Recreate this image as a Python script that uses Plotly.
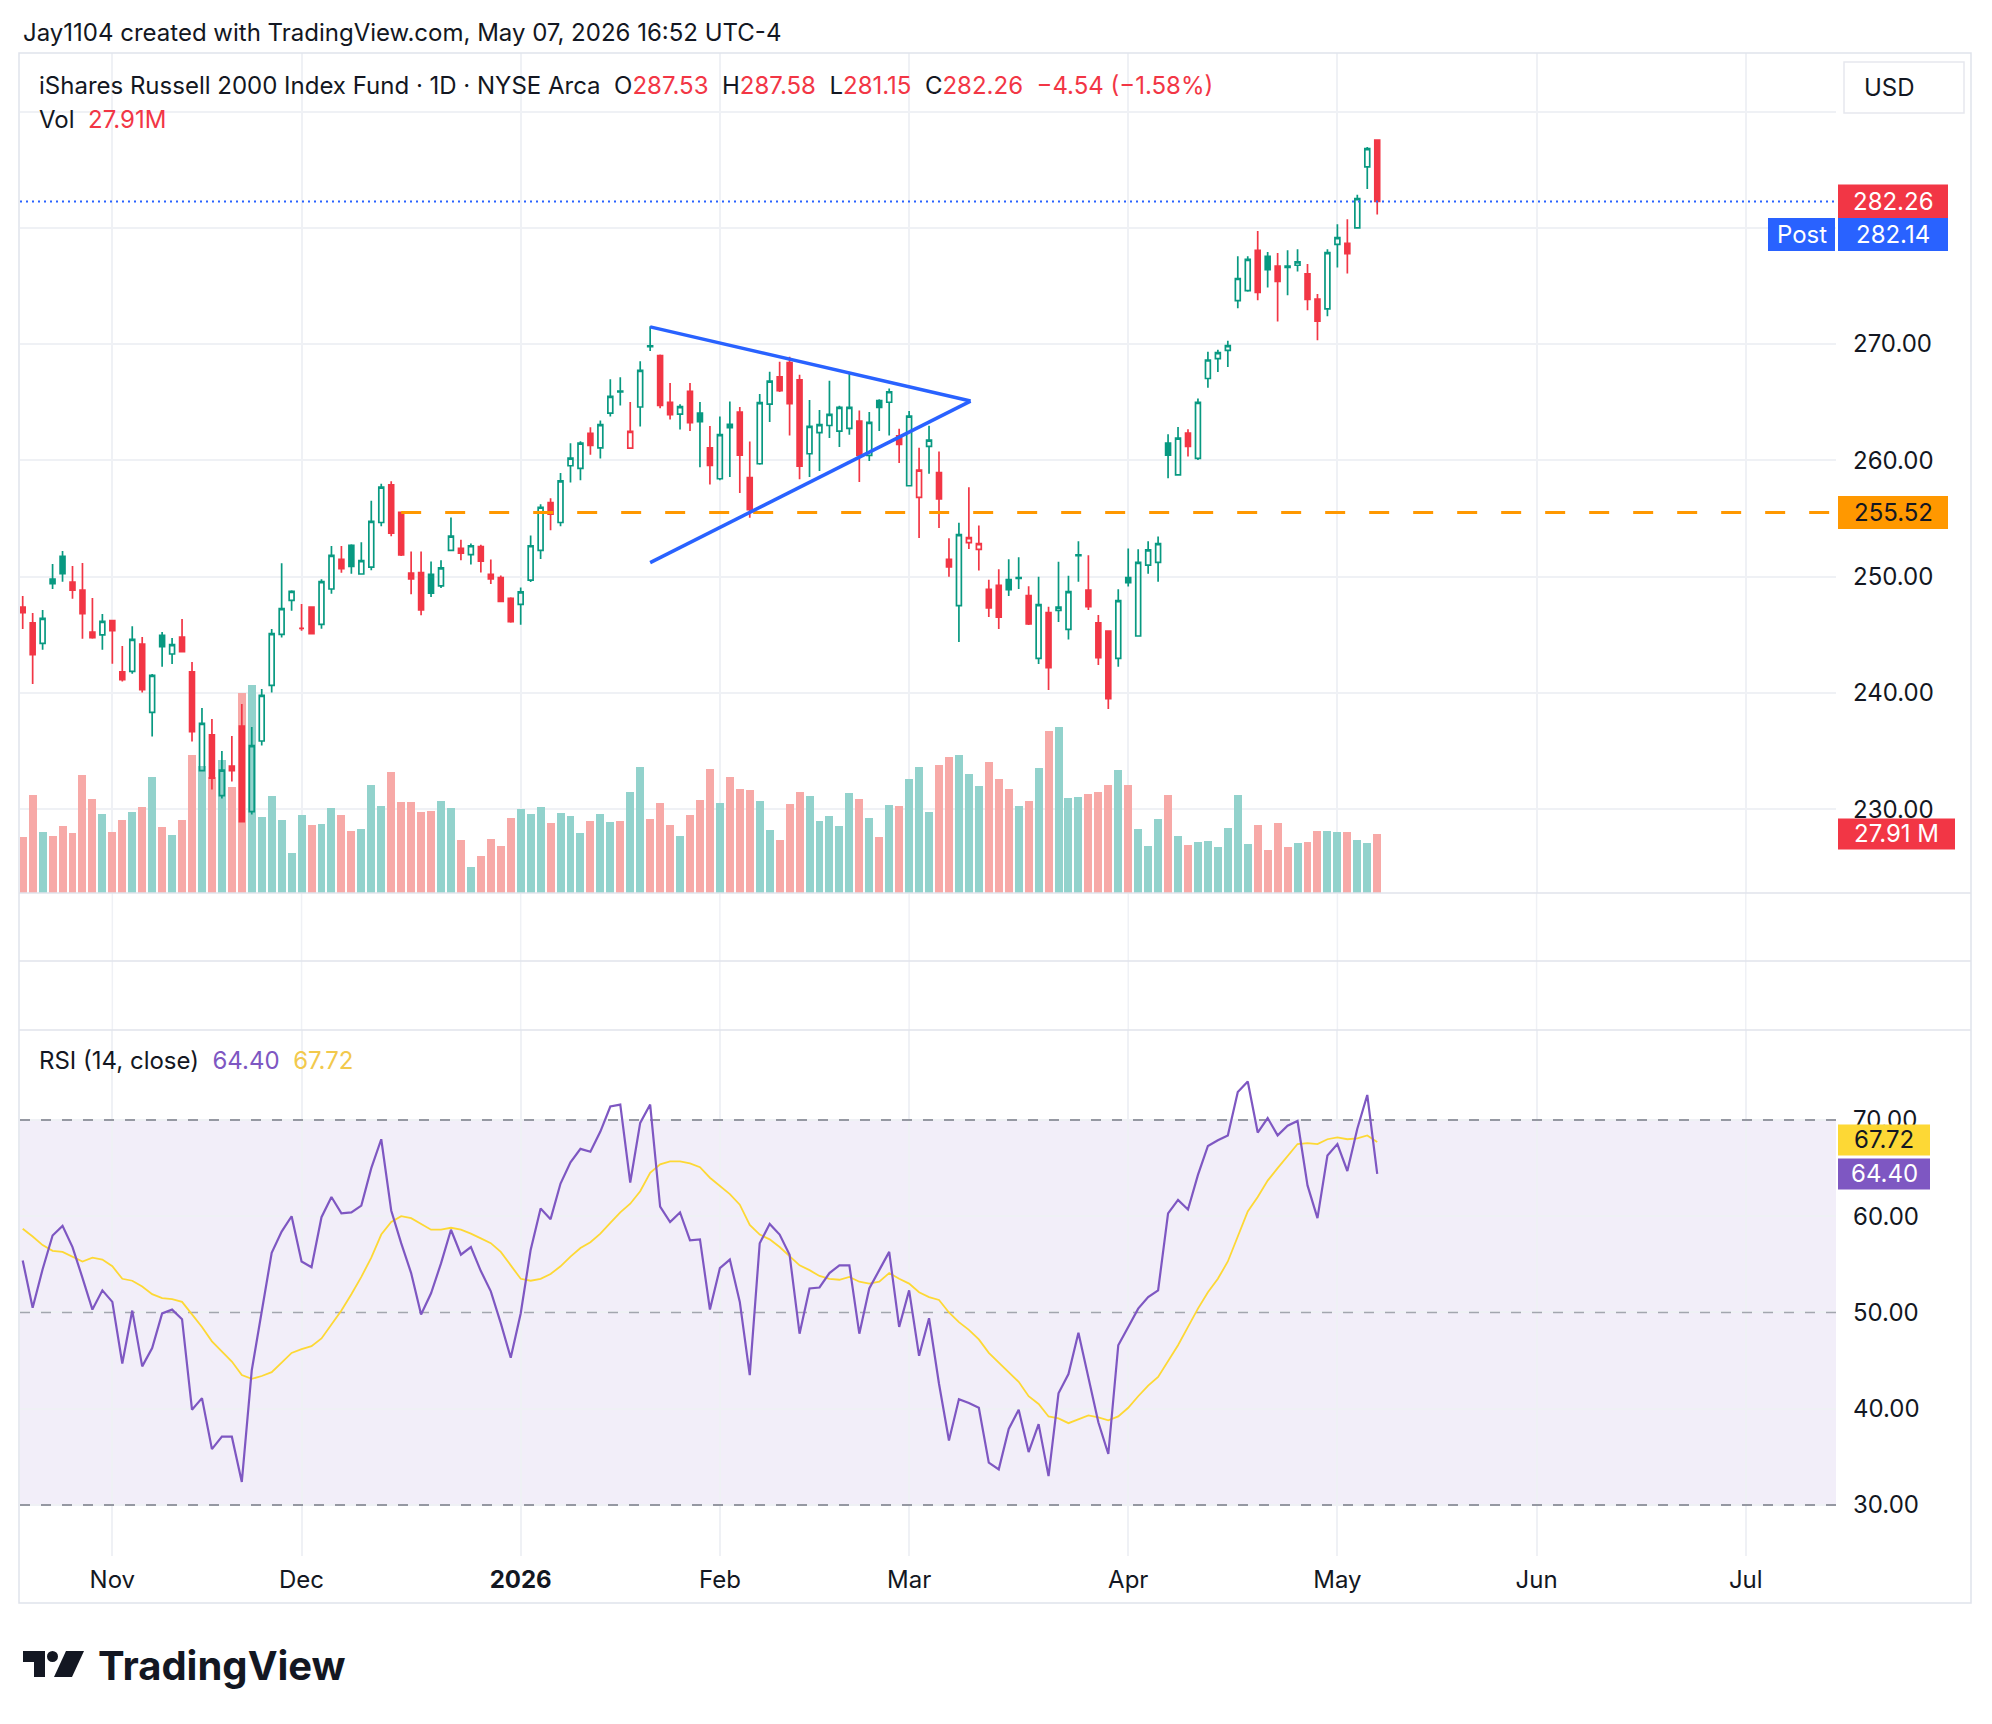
import pandas as pd
import plotly.graph_objects as go

W, H = 1992, 1724

# ---------------- data ----------------
holidays = ["2025-11-27", "2025-12-25", "2026-01-01", "2026-01-19", "2026-02-16", "2026-04-03"]
future_holidays = ["2026-05-25", "2026-06-19", "2026-07-03"]
dates = [d for d in pd.bdate_range("2025-10-21", "2026-05-07") if d.strftime("%Y-%m-%d") not in holidays]

opens = [247.39, 246.02, 244.27, 249.80, 251.75, 249.54, 248.85, 245.24, 244.99, 246.22,
         241.81, 241.86, 244.21, 238.34, 244.96, 243.35, 244.81, 241.81, 233.32, 236.39,
         231.17, 233.72, 237.16, 229.80, 235.87, 240.66, 245.04, 247.97, 245.55, 247.39,
         245.90, 248.94, 251.49, 252.69, 250.23, 250.82, 254.66, 257.90, 255.54, 250.30,
         250.36, 250.20, 249.21, 252.26, 252.43, 251.90, 252.59, 250.20, 249.93, 248.13,
         247.61, 249.70, 252.26, 256.36, 254.66, 259.54, 259.31, 262.33, 261.08, 264.07,
         265.95, 261.05, 264.59, 269.85, 269.02, 264.98, 263.97, 265.93, 264.07, 261.08,
         258.42, 263.09, 264.15, 258.51, 259.71, 264.84, 267.19, 268.40, 266.93, 260.57,
         262.38, 263.00, 262.52, 262.75, 263.38, 260.43, 265.15, 265.00, 262.12, 257.82,
         256.82, 261.20, 258.94, 251.49, 247.51, 252.92, 252.35, 248.91, 249.26, 249.74,
         249.85, 248.37, 242.98, 246.91, 247.11, 245.47, 251.80, 248.85, 246.02, 245.33,
         242.98, 249.91, 244.90, 251.00, 251.23, 261.48, 258.75, 262.34, 260.17, 267.04,
         268.75, 269.46, 273.73, 274.59, 278.06, 277.55, 276.70, 276.70, 276.78, 276.04,
         273.87, 273.02, 278.58, 278.66, 280.00, 285.24, 287.53]
highs = [248.34, 246.88, 247.13, 251.09, 252.21, 250.92, 251.17, 248.17, 246.79, 246.28,
         244.04, 245.73, 244.81, 241.63, 245.24, 244.73, 246.36, 242.66, 238.71, 237.77,
         235.01, 236.30, 239.05, 237.08, 240.34, 245.50, 251.15, 248.83, 247.65, 247.45,
         249.77, 252.64, 252.64, 252.78, 252.95, 256.52, 258.00, 258.20, 255.60, 252.16,
         252.16, 251.31, 251.41, 255.08, 253.18, 252.85, 252.75, 251.48, 250.10, 248.23,
         249.08, 253.54, 256.23, 256.75, 258.92, 261.48, 261.64, 262.85, 263.44, 266.98,
         267.15, 265.02, 268.52, 271.54, 269.10, 266.66, 264.82, 266.66, 265.02, 262.95,
         263.78, 265.07, 264.60, 261.63, 265.70, 267.62, 268.48, 268.91, 267.36, 265.19,
         264.33, 266.85, 264.70, 267.42, 264.30, 264.15, 265.25, 266.18, 262.72, 264.24,
         261.09, 262.98, 260.77, 253.30, 254.64, 257.68, 254.41, 249.74, 250.63, 251.49,
         251.66, 249.17, 250.00, 247.42, 251.29, 250.09, 253.05, 251.85, 246.70, 245.40,
         248.91, 252.42, 252.36, 253.05, 253.45, 262.25, 262.88, 262.68, 265.33, 269.34,
         269.52, 270.28, 277.55, 277.55, 279.72, 277.92, 277.83, 278.06, 278.15, 276.89,
         274.30, 278.15, 280.31, 280.74, 282.85, 286.95, 287.58]
lows = [245.50, 240.77, 243.72, 248.94, 249.57, 248.11, 244.67, 244.67, 243.72, 242.52,
        240.99, 241.66, 240.03, 236.25, 242.26, 242.49, 243.52, 235.82, 233.30, 231.69,
        230.92, 232.38, 228.87, 229.55, 235.48, 240.03, 244.76, 247.08, 245.36, 245.05,
        245.53, 248.54, 250.34, 250.26, 250.20, 250.56, 254.33, 253.48, 251.77, 248.49,
        246.69, 248.26, 249.02, 252.20, 251.41, 251.05, 250.36, 249.38, 247.80, 246.03,
        245.87, 249.54, 251.51, 254.00, 254.33, 258.10, 258.30, 260.49, 260.16, 263.77,
        264.72, 261.00, 262.92, 269.41, 264.49, 263.51, 262.66, 262.52, 259.41, 257.93,
        258.30, 258.57, 257.19, 255.07, 259.63, 263.30, 265.88, 262.15, 258.37, 258.57,
        259.08, 261.92, 261.15, 262.21, 258.14, 259.94, 262.52, 262.15, 259.77, 257.82,
        253.32, 258.85, 254.18, 250.00, 244.38, 252.38, 250.54, 246.53, 245.50, 248.34,
        248.94, 245.85, 242.49, 240.26, 246.10, 244.60, 249.57, 247.13, 242.41, 238.62,
        242.26, 249.15, 244.90, 250.26, 249.57, 258.46, 258.75, 260.34, 260.03, 266.24,
        267.61, 268.03, 273.08, 274.50, 273.76, 274.87, 271.94, 274.19, 276.24, 272.91,
        270.34, 272.39, 276.58, 276.07, 279.97, 283.33, 281.15]
closes = [246.91, 243.30, 246.42, 249.40, 250.26, 248.85, 246.82, 244.76, 246.16, 245.36,
          241.15, 244.61, 240.29, 241.52, 243.98, 244.15, 243.55, 236.68, 237.39, 232.67,
          233.36, 233.32, 228.94, 235.48, 239.80, 245.10, 247.25, 248.74, 245.55, 245.10,
          249.57, 251.83, 250.69, 250.89, 251.38, 254.75, 257.70, 253.74, 251.87, 249.80,
          247.15, 248.59, 250.75, 253.48, 252.03, 252.66, 251.34, 249.80, 247.87, 246.13,
          248.69, 252.66, 255.97, 255.38, 258.23, 260.20, 261.48, 261.28, 263.08, 265.51,
          265.88, 262.49, 267.74, 269.78, 264.72, 263.93, 264.62, 263.25, 263.34, 259.57,
          262.21, 262.81, 260.46, 255.76, 264.97, 266.82, 265.99, 264.87, 259.51, 262.92,
          263.07, 263.95, 264.55, 264.55, 260.43, 263.27, 264.55, 265.90, 261.38, 263.81,
          259.17, 261.75, 256.68, 250.83, 253.61, 253.35, 252.84, 247.31, 246.53, 248.88,
          249.92, 245.93, 247.59, 242.18, 247.39, 248.71, 251.88, 247.42, 243.04, 239.51,
          247.94, 249.49, 251.23, 252.31, 252.85, 260.46, 261.91, 261.20, 264.99, 268.63,
          269.26, 269.86, 275.64, 277.29, 274.44, 276.41, 275.38, 276.60, 277.07, 273.85,
          271.97, 277.86, 279.15, 277.78, 282.51, 286.80, 282.26]
volumes_m = [26.3, 46.2, 28.7, 26.8, 31.5, 28.2, 55.7, 44.3, 37.2, 28.7,
             34.4, 38.2, 40.5, 54.7, 31.1, 27.3, 34.4, 65.1, 60.0, 55.0,
             62.8, 50.0, 94.5, 98.2, 35.8, 45.7, 34.4, 18.8, 36.7, 32.0,
             32.5, 40.1, 36.7, 29.2, 30.1, 51.0, 41.0, 57.2, 42.9, 42.9,
             38.2, 38.8, 43.5, 40.2, 25.1, 12.3, 17.5, 25.6, 22.2, 35.5,
             39.7, 37.3, 40.6, 33.0, 37.9, 36.4, 28.3, 34.1, 37.3, 33.6,
             34.1, 47.6, 59.4, 35.0, 42.6, 32.1, 26.9, 36.8, 44.0, 58.6,
             42.8, 54.7, 49.0, 48.6, 43.4, 29.6, 24.9, 41.9, 47.6, 45.7,
             33.9, 36.3, 31.5, 47.2, 44.3, 35.3, 26.3, 41.5, 41.0, 53.8,
             59.5, 38.2, 60.4, 64.2, 65.1, 56.1, 50.5, 61.8, 53.8, 49.0,
             41.0, 43.4, 59.0, 76.5, 78.3, 44.9, 45.4, 46.8, 47.8, 51.1,
             58.2, 51.1, 30.3, 22.2, 35.0, 46.4, 27.0, 22.7, 24.1, 24.6,
             21.8, 30.8, 46.4, 23.2, 32.2, 20.3, 33.1, 21.8, 23.7, 24.1,
             29.3, 29.3, 28.9, 28.9, 25.1, 23.7, 27.91]
rsi = [55.4, 50.5, 54.5, 58.0, 59.0, 56.8, 53.6, 50.3, 52.3, 51.1,
       44.7, 50.2, 44.4, 46.3, 49.9, 50.3, 49.3, 39.9, 41.1, 35.8,
       37.1, 37.1, 32.4, 44.0, 50.1, 56.2, 58.4, 60.0, 55.3, 54.7,
       59.9, 62.0, 60.3, 60.4, 61.1, 65.0, 68.0, 60.6, 57.2, 54.1,
       49.8, 52.0, 55.1, 58.6, 56.0, 56.8, 54.3, 52.2, 48.9, 45.3,
       49.9, 56.5, 60.8, 59.7, 63.4, 65.6, 67.0, 66.7, 68.8, 71.4,
       71.6, 63.5, 69.7, 71.6, 61.0, 59.4, 60.4, 57.5, 57.6, 50.3,
       54.6, 55.5, 51.1, 43.5, 57.2, 59.2, 58.1, 56.0, 47.8, 52.5,
       52.6, 54.1, 54.9, 54.9, 47.8, 52.5, 54.4, 56.3, 48.5, 52.3,
       45.5, 49.4, 42.6, 36.7, 41.0, 40.6, 40.1, 34.4, 33.7, 37.9,
       39.9, 35.5, 38.4, 33.0, 41.6, 43.6, 47.9, 43.1, 38.6, 35.3,
       46.6, 48.5, 50.4, 51.6, 52.3, 60.3, 61.7, 60.7, 64.3, 67.3,
       67.9, 68.4, 72.9, 74.0, 68.7, 70.2, 68.4, 69.4, 69.9, 63.2,
       59.8, 66.3, 67.5, 64.7, 69.1, 72.6, 64.40]
rsi_ma = [58.7, 57.9, 57.0, 56.4, 56.3, 55.8, 55.3, 55.7, 55.5, 54.8,
          53.5, 53.3, 52.7, 51.9, 51.5, 51.4, 51.1, 49.8, 48.5, 47.0,
          45.9, 44.9, 43.5, 43.1, 43.4, 43.8, 44.8, 45.8, 46.2, 46.5,
          47.3, 48.7, 50.2, 51.9, 53.7, 55.7, 58.1, 59.4, 60.0, 59.8,
          59.2, 58.6, 58.6, 58.8, 58.6, 58.2, 57.7, 57.2, 56.3, 54.9,
          53.5, 53.3, 53.5, 54.0, 54.8, 55.8, 56.7, 57.3, 58.2, 59.3,
          60.4, 61.3, 62.6, 64.5, 65.4, 65.7, 65.7, 65.5, 65.1, 64.0,
          63.1, 62.3, 61.2, 59.1, 58.1, 57.6, 56.8, 55.8, 54.9, 54.4,
          53.8, 53.5, 53.4, 53.7, 53.2, 53.0, 53.2, 54.1, 53.5, 53.0,
          52.1, 51.6, 51.3, 50.0, 49.0, 48.2, 47.2, 45.8, 44.8, 43.8,
          42.8, 41.3, 40.5, 39.2, 39.0, 38.5, 38.9, 39.3, 39.1, 38.8,
          39.2, 40.1, 41.3, 42.4, 43.3, 44.9, 46.6, 48.5, 50.4, 52.1,
          53.5, 55.3, 57.8, 60.5, 62.0, 63.7, 65.0, 66.3, 67.5, 67.6,
          67.5, 68.0, 68.2, 68.0, 68.1, 68.4, 67.72]

support_level = 255.52
post_price = 282.14
tri_dates = ["2026-01-22", "2026-03-10 04:00", "2026-01-22"]
tri_prices = [271.48, 265.10, 251.21]
month_tick_dates = ["2025-11-03", "2025-12-01", "2026-01-02", "2026-02-02", "2026-03-02",
                    "2026-04-01", "2026-05-01", "2026-06-01", "2026-07-01"]
month_tick_text = ["Nov", "Dec", "<b>2026</b>", "Feb", "Mar", "Apr", "May", "Jun", "Jul"]
price_ticks = [230, 240, 250, 260, 270, 280, 290]
price_tick_text = ["230.00", "240.00", "250.00", "260.00", "270.00", "", ""]
rsi_ticks = [30, 40, 50, 60, 70]
rsi_tick_text = ["30.00", "40.00", "50.00", "60.00", "70.00"]
rsi_levels = [70, 50, 30]

# ---------------- style ----------------
GREEN = "#089981"
RED = "#F23645"
VOL_UP = "#92D2CC"
VOL_DN = "#F7A9A7"
BLUE = "#2962FF"
ORANGE = "#FF9800"
PURPLE = "#7E57C2"
YELLOW = "#FDD835"
TXT = "#131722"
GRID = "#EFF1F5"
FONT = "Inter, Roboto, 'Noto Sans', sans-serif"
FS = 24

PL, PR = 20, 1836          # plot area left/right (px)
P_TOP, P_BOT = 53, 893     # price pane
R_TOP, R_BOT = 1030, 1556  # rsi pane
VOL_MAX = 397.3
P_MIN, P_MAX = 222.80, 295.03
R_MIN, R_MAX = 24.70, 79.35


def fx(px):
    return px / W


def fy(py):
    return 1 - py / H


# color by close vs previous close, fill by close vs open (hollow candles)
up_prev = [closes[0] >= opens[0]] + [closes[i] >= closes[i - 1] for i in range(1, len(closes))]
vol_colors = [VOL_UP if c >= o else VOL_DN for o, c in zip(opens, closes)]

rb = [dict(bounds=["sat", "mon"]), dict(values=holidays + future_holidays)]
x_range = ["2025-10-20 17:30", "2026-07-15 01:30"]

fig = go.Figure()

fig.add_trace(go.Bar(x=dates, y=volumes_m, marker=dict(color=vol_colors, line=dict(width=0)),
                     width=0.8 * 86400000, xaxis="x", yaxis="y", hoverinfo="skip", showlegend=False))


def candle(mask, color):
    idx = [i for i in range(len(dates)) if mask[i]]
    return go.Candlestick(
        x=[dates[i] for i in idx], open=[opens[i] for i in idx], high=[highs[i] for i in idx],
        low=[lows[i] for i in idx], close=[closes[i] for i in idx],
        increasing=dict(line=dict(color=color, width=1.7), fillcolor="rgba(255,255,255,0)"),
        decreasing=dict(line=dict(color=color, width=1.7), fillcolor=color),
        whiskerwidth=0, xaxis="x", yaxis="y2", hoverinfo="skip", showlegend=False)


fig.add_trace(candle(up_prev, GREEN))
fig.add_trace(candle([not u for u in up_prev], RED))

# RSI reference levels (dashed), drawn under the RSI lines
for lvl, col in zip(rsi_levels, ("#787B86", "#A3A6AF", "#787B86")):
    fig.add_trace(go.Scatter(x=x_range, y=[lvl, lvl], mode="lines",
                             line=dict(color=col, width=1.6, dash="10px,11px"),
                             xaxis="x2", yaxis="y3", hoverinfo="skip", showlegend=False, cliponaxis=False))

fig.add_trace(go.Scatter(x=dates, y=rsi_ma, mode="lines", line=dict(color=YELLOW, width=1.8),
                         xaxis="x2", yaxis="y3", hoverinfo="skip", showlegend=False))
fig.add_trace(go.Scatter(x=dates, y=rsi, mode="lines", line=dict(color=PURPLE, width=2.2),
                         xaxis="x2", yaxis="y3", hoverinfo="skip", showlegend=False))

xaxis_common = dict(type="date", range=x_range, rangebreaks=rb, tickmode="array",
                    tickvals=month_tick_dates, ticktext=month_tick_text,
                    showgrid=True, gridcolor=GRID, gridwidth=1.5, zeroline=False,
                    showline=False, ticks="", domain=[fx(PL), fx(PR)], fixedrange=True,
                    automargin=False, rangeslider=dict(visible=False))

fig.update_layout(
    width=W, height=H, margin=dict(l=0, r=0, t=0, b=0, autoexpand=False),
    paper_bgcolor="white", plot_bgcolor="white",
    font=dict(family=FONT, color=TXT, size=FS),
    showlegend=False, boxgap=0.3, bargap=0,
    xaxis=dict(xaxis_common, anchor="y", showticklabels=False),
    xaxis2=dict(xaxis_common, anchor="y3", matches="x", showticklabels=True,
                tickfont=dict(size=FS, color=TXT), ticklabelstandoff=7),
    yaxis=dict(domain=[fy(P_BOT), fy(P_TOP)], range=[0, VOL_MAX], visible=False,
               showgrid=False, fixedrange=True, automargin=False),
    yaxis2=dict(overlaying="y", anchor="x", side="right", range=[P_MIN, P_MAX],
                tickmode="array", tickvals=price_ticks, ticktext=price_tick_text,
                showgrid=True, gridcolor=GRID, gridwidth=1.5, zeroline=False, ticks="",
                tickfont=dict(size=FS, color=TXT), ticklabelstandoff=16, fixedrange=True,
                automargin=False),
    yaxis3=dict(domain=[fy(R_BOT), fy(R_TOP)], anchor="x2", side="right", range=[R_MIN, R_MAX],
                tickmode="array", tickvals=rsi_ticks, ticktext=rsi_tick_text,
                showgrid=True, gridcolor=GRID, gridwidth=1.5, zeroline=False, ticks="",
                tickfont=dict(size=FS, color=TXT), ticklabelstandoff=16, fixedrange=True,
                automargin=False),
)

shapes = []
# outer frame and pane separators
shapes.append(dict(type="rect", xref="paper", yref="paper", x0=fx(19), x1=fx(1971), y0=fy(1603), y1=fy(53),
                   line=dict(color="#E0E3EB", width=1.5), fillcolor="rgba(0,0,0,0)", layer="above"))
for py in (P_BOT, 961, R_TOP):
    shapes.append(dict(type="line", xref="paper", yref="paper", x0=fx(19), x1=fx(1971), y0=fy(py), y1=fy(py),
                       line=dict(color="#E0E3EB", width=1.5)))
# vertical grid through the empty panes
for d in month_tick_dates:
    shapes.append(dict(type="line", xref="x", yref="paper", x0=d, x1=d, y0=fy(R_TOP), y1=fy(P_BOT),
                       line=dict(color=GRID, width=1.5), layer="below"))
# RSI band
shapes.append(dict(type="rect", xref="paper", yref="y3", x0=fx(PL), x1=fx(PR), y0=rsi_levels[2], y1=rsi_levels[0],
                   fillcolor="rgba(126,87,194,0.10)", line=dict(width=0), layer="below"))
# support line (orange dashed)
shapes.append(dict(type="line", xref="x", yref="y2", x0=dates[38], x1=x_range[1], y0=support_level, y1=support_level,
                   line=dict(color=ORANGE, width=3, dash="20px,24px")))
# last price dotted line
shapes.append(dict(type="line", xref="paper", yref="y2", x0=fx(PL), x1=fx(PR), y0=closes[-1], y1=closes[-1],
                   line=dict(color=BLUE, width=2, dash="2px,4px")))
# triangle
shapes.append(dict(type="line", xref="x", yref="y2", x0=tri_dates[0], x1=tri_dates[1], y0=tri_prices[0], y1=tri_prices[1],
                   line=dict(color=BLUE, width=3.5)))
shapes.append(dict(type="line", xref="x", yref="y2", x0=tri_dates[2], x1=tri_dates[1], y0=tri_prices[2], y1=tri_prices[1],
                   line=dict(color=BLUE, width=3.5)))

annotations = []


def label_box(x0, x1, yc, fill, text, tcolor, h=33):
    shapes.append(dict(type="rect", xref="paper", yref="paper", x0=fx(x0), x1=fx(x1),
                       y0=fy(yc + h / 2), y1=fy(yc - h / 2), fillcolor=fill, line=dict(width=0), layer="above"))
    annotations.append(dict(xref="paper", yref="paper", x=fx((x0 + x1) / 2), y=fy(yc), text=text,
                            showarrow=False, xanchor="center", yanchor="middle",
                            font=dict(size=FS, color=tcolor)))


def price_y(p):
    return P_BOT - (p - P_MIN) / (P_MAX - P_MIN) * (P_BOT - P_TOP)


def rsi_y(v):
    return R_BOT - (v - R_MIN) / (R_MAX - R_MIN) * (R_BOT - R_TOP)


label_box(1838, 1948, price_y(closes[-1]), RED, f"{closes[-1]:.2f}", "white", 34)
label_box(1768, 1835, price_y(closes[-1]) + 33, BLUE, "Post", "white", 33)
label_box(1838, 1948, price_y(closes[-1]) + 33, BLUE, f"{post_price:.2f}", "white", 33)
label_box(1838, 1948, price_y(support_level), ORANGE, f"{support_level:.2f}", TXT, 33)
label_box(1838, 1955, P_BOT - volumes_m[-1] / VOL_MAX * (P_BOT - P_TOP), RED, f"{volumes_m[-1]:.2f} M", "white", 31)
label_box(1838, 1930, rsi_y(rsi_ma[-1]) - 2, YELLOW, f"{rsi_ma[-1]:.2f}", TXT, 31)
label_box(1838, 1930, rsi_y(rsi[-1]) + 0, PURPLE, f"{rsi[-1]:.2f}", "white", 31)

# USD box
shapes.append(dict(type="rect", xref="paper", yref="paper", x0=fx(1844), x1=fx(1964), y0=fy(113), y1=fy(62),
                   line=dict(color="#E6E8EE", width=1.5), fillcolor="white", layer="above"))
annotations.append(dict(xref="paper", yref="paper", x=fx(1862), y=fy(88), text="USD", showarrow=False,
                        xanchor="left", yanchor="middle", font=dict(size=FS, color=TXT)))

# header texts
annotations.append(dict(xref="paper", yref="paper", x=fx(21), y=fy(32),
                        text="Jay1104 created with TradingView.com, May 07, 2026 16:52 UTC-4",
                        showarrow=False, xanchor="left", yanchor="middle", font=dict(size=FS, color=TXT)))
chg = closes[-1] - closes[-2]
pct = chg / closes[-2] * 100


def red(s):
    return f"<span style='color:{RED}'>{s}</span>"


legend_txt = ("iShares Russell 2000 Index Fund · 1D · NYSE Arca&nbsp;&nbsp;"
              f"O{red(f'{opens[-1]:.2f}')}&nbsp;&nbsp;H{red(f'{highs[-1]:.2f}')}&nbsp;&nbsp;"
              f"L{red(f'{lows[-1]:.2f}')}&nbsp;&nbsp;C{red(f'{closes[-1]:.2f}')}&nbsp;&nbsp;"
              + red(f"{chg:+.2f} ({pct:+.2f}%)".replace("-", "−")))
annotations.append(dict(xref="paper", yref="paper", x=fx(37), y=fy(86), text=legend_txt, showarrow=False,
                        xanchor="left", yanchor="middle", font=dict(size=FS, color=TXT)))
annotations.append(dict(xref="paper", yref="paper", x=fx(37), y=fy(120),
                        text=f"Vol&nbsp;&nbsp;{red(f'{volumes_m[-1]:.2f}M')}", showarrow=False,
                        xanchor="left", yanchor="middle", font=dict(size=FS, color=TXT)))
annotations.append(dict(xref="paper", yref="paper", x=fx(37), y=fy(1060),
                        text=(f"RSI (14, close)&nbsp;&nbsp;<span style='color:{PURPLE}'>{rsi[-1]:.2f}</span>"
                              f"&nbsp;&nbsp;<span style='color:#F2C94C'>{rsi_ma[-1]:.2f}</span>"),
                        showarrow=False, xanchor="left", yanchor="middle", font=dict(size=FS, color=TXT)))


# TradingView logo
def ppath(points):
    return "M " + " L ".join(f"{fx(x):.5f},{fy(y):.5f}" for x, y in points) + " Z"


shapes.append(dict(type="path", xref="paper", yref="paper",
                   path=ppath([(23, 1651), (45, 1651), (45, 1677), (34, 1677), (34, 1662), (23, 1662)]),
                   fillcolor=TXT, line=dict(width=0)))
shapes.append(dict(type="circle", xref="paper", yref="paper", x0=fx(47), x1=fx(58), y0=fy(1662), y1=fy(1651),
                   fillcolor=TXT, line=dict(width=0)))
shapes.append(dict(type="path", xref="paper", yref="paper",
                   path=ppath([(66, 1651), (84, 1651), (72, 1677), (54, 1677)]),
                   fillcolor=TXT, line=dict(width=0)))
annotations.append(dict(xref="paper", yref="paper", x=fx(96), y=fy(1665), text="<b>TradingView</b>",
                        showarrow=False, xanchor="left", yanchor="middle", font=dict(size=40, color=TXT)))

fig.update_layout(shapes=shapes, annotations=annotations)

fig.write_html("out.html", config=dict(displayModeBar=False),
               post_script="document.body.style.margin='0';document.body.style.overflow='hidden';")
